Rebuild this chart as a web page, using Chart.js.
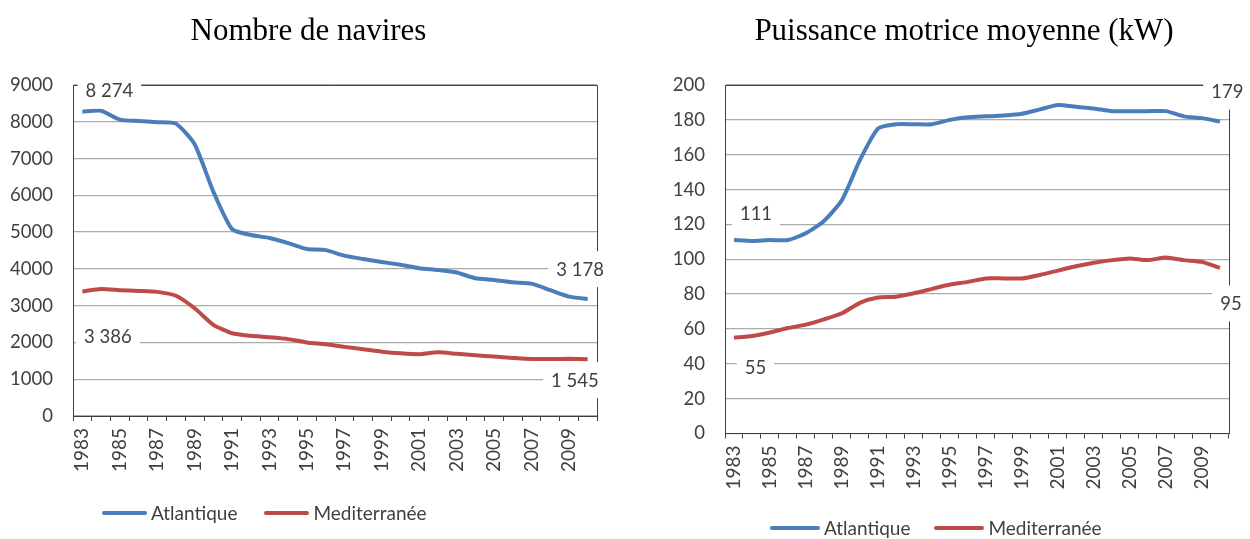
<!DOCTYPE html>
<html>
<head>
<meta charset="utf-8">
<script src="https://cdn.jsdelivr.net/npm/chart.js@4"></script>
<style>
  body { margin: 0; background: #fff; }
  #wrap { position: relative; width: 1250px; height: 539px; overflow: hidden; }
  canvas { position: absolute; top: 0; }
  .title { position: absolute; top: 15px; font: 31px 'Liberation Serif', 'Times New Roman', serif; line-height: 30px; color: #000; text-align: center; white-space: nowrap; }
  .legend { position: absolute; display: flex; align-items: center; font: 19px Lato, sans-serif; color: #404040; white-space: nowrap; }
  .legend .line { display: inline-block; height: 4px; border-radius: 2px; margin-right: 4px; }
  .legend .item { display: flex; align-items: center; }
</style>
</head>
<body>
<div id="wrap">
  <canvas id="navires" width="625" height="539" style="left:0"></canvas>
  <canvas id="puissance" width="625" height="539" style="left:625px"></canvas>
  <div class="title" style="left:0;width:617px">Nombre de navires</div>
  <div class="title" style="left:664px;width:600px">Puissance motrice moyenne (kW)</div>
  <div class="legend" style="left:102px;top:501px">
    <span class="item"><span class="line" style="width:45px;background:#4A7EBB"></span>Atlantique</span>
    <span class="item" style="margin-left:27px"><span class="line" style="width:45px;background:#BE4B48"></span>Mediterranée</span>
  </div>
  <div class="legend" style="left:770px;top:516px">
    <span class="item"><span class="line" style="width:50px;background:#4A7EBB"></span>Atlantique</span>
    <span class="item" style="margin-left:24px"><span class="line" style="width:50px;background:#BE4B48"></span>Mediterranée</span>
  </div>
</div>
<script>
// categories
const years = ['1983','1984','1985','1986','1987','1988','1989','1990','1991','1992',
  '1993','1994','1995','1996','1997','1998','1999','2000','2001','2002',
  '2003','2004','2005','2006','2007','2008','2009','2010'];

// nombre de navires
const navAtlantique = [8274, 8300, 8060, 8020, 7990, 7950, 7390, 6100, 5080, 4920,
  4840, 4700, 4540, 4510, 4360, 4270, 4190, 4110, 4020, 3970,
  3900, 3745, 3700, 3635, 3600, 3420, 3245, 3178];
const navMediterranee = [3386, 3450, 3420, 3400, 3375, 3270, 2930, 2480, 2250, 2180,
  2140, 2090, 2000, 1950, 1880, 1815, 1750, 1705, 1680, 1730,
  1690, 1650, 1615, 1580, 1550, 1550, 1555, 1545];

// puissance motrice moyenne (kW)
const kwAtlantique = [111, 110.5, 111, 111, 115, 122, 134, 157, 175, 177.5,
  177.5, 177.5, 180, 181.5, 182, 182.5, 183.5, 186, 188.5, 187.5,
  186.5, 185, 185, 185, 185, 182, 181, 179];
const kwMediterranee = [55, 56, 58, 60.5, 62.5, 65.5, 69, 75, 78, 78.5,
  80.5, 83, 85.5, 87, 89, 89, 89, 91, 93.5, 96,
  98, 99.5, 100.5, 99.5, 101, 99.5, 98.5, 95];

const BLUE = '#4A7EBB';
const RED = '#BE4B48';
const AXIS = '#404040';
const tickFont = { family: 'Lato', size: 18.5 };

// "8274" -> "8 274"
const fmt = v => String(v).replace(/\B(?=(\d{3})+(?!\d))/g, ' ');

// top and right border of the plot
const boxPlugin = {
  id: 'box',
  beforeDatasetsDraw(chart) {
    const { ctx, chartArea: a } = chart;
    ctx.save();
    ctx.strokeStyle = AXIS;
    ctx.lineWidth = 1;
    ctx.beginPath();
    ctx.moveTo(Math.round(a.left), Math.round(a.top) + 0.5);
    ctx.lineTo(Math.round(a.right) + 0.5, Math.round(a.top) + 0.5);
    ctx.lineTo(Math.round(a.right) + 0.5, Math.round(a.bottom));
    ctx.stroke();
    ctx.restore();
  }
};

// first / last value labels on white boxes
const endLabels = {
  id: 'endLabels',
  afterDatasetsDraw(chart, args, opts) {
    const ctx = chart.ctx;
    ctx.save();
    ctx.font = '18.5px Lato';
    (opts.items || []).forEach(it => {
      const ds = chart.data.datasets[it.ds];
      const i = it.at === 'first' ? 0 : ds.data.length - 1;
      const pt = chart.getDatasetMeta(it.ds).data[i];
      const txt = fmt(ds.data[i]);
      const w = ctx.measureText(txt).width;
      const cx = pt.x + it.dx, cy = pt.y + it.dy;
      ctx.fillStyle = '#fff';
      ctx.fillRect(cx - w / 2 - 8, cy - 18, w + 16, 36);
      ctx.fillStyle = AXIS;
      ctx.textAlign = 'center';
      ctx.textBaseline = 'alphabetic';
      ctx.fillText(txt, cx, cy + 6.7);
    });
    ctx.restore();
  }
};

function makeChart(id, a, b, yMax, yStep, yWidth, xHeight, padRight, labels) {
  return new Chart(document.getElementById(id), {
    type: 'line',
    data: {
      labels: years,
      datasets: [
        { label: 'Atlantique', data: a, borderColor: BLUE, borderWidth: 4, pointRadius: 0, tension: 0.2 },
        { label: 'Mediterranée', data: b, borderColor: RED, borderWidth: 4, pointRadius: 0, tension: 0.2 }
      ]
    },
    options: {
      responsive: false,
      animation: false,
      layout: { padding: { left: 0, right: padRight, top: 85, bottom: 0 } },
      plugins: {
        legend: { display: false },
        tooltip: { enabled: false },
        endLabels: { items: labels }
      },
      scales: {
        x: {
          offset: true,
          grid: { offset: true, drawOnChartArea: false, drawTicks: true, tickLength: 5, color: AXIS },
          border: { color: AXIS },
          ticks: {
            autoSkip: false, minRotation: 90, maxRotation: 90, padding: 7,
            font: { family: 'Lato', size: 19 }, color: AXIS,
            callback: (v, i) => (i % 2 === 0 ? years[i] : '')
          },
          afterFit: s => { s.height = xHeight; }
        },
        y: {
          min: 0, max: yMax,
          grid: { color: '#acacac', lineWidth: 1.3, drawTicks: false },
          border: { color: AXIS },
          ticks: { stepSize: yStep, padding: 20, font: tickFont, color: AXIS, callback: v => String(v) },
          afterFit: s => { s.width = yWidth; }
        }
      }
    },
    plugins: [boxPlugin, endLabels]
  });
}

makeChart('navires', navAtlantique, navMediterranee, 9000, 1000, 73, 123, 28, [
  { ds: 0, at: 'first', dx: 27, dy: -21 },
  { ds: 1, at: 'first', dx: 25.5, dy: 44.5 },
  { ds: 0, at: 'last', dx: -7.5, dy: -30 },
  { ds: 1, at: 'last', dx: -12.7, dy: 21 }
]);

makeChart('puissance', kwAtlantique, kwMediterranee, 200, 20, 100, 105.5, 16, [
  { ds: 0, at: 'first', dx: 22, dy: -27 },
  { ds: 1, at: 'first', dx: 21.5, dy: 29.5 },
  { ds: 0, at: 'last', dx: 7.4, dy: -30 },
  { ds: 1, at: 'last', dx: 11, dy: 35.4 }
]);
</script>
</body>
</html>
